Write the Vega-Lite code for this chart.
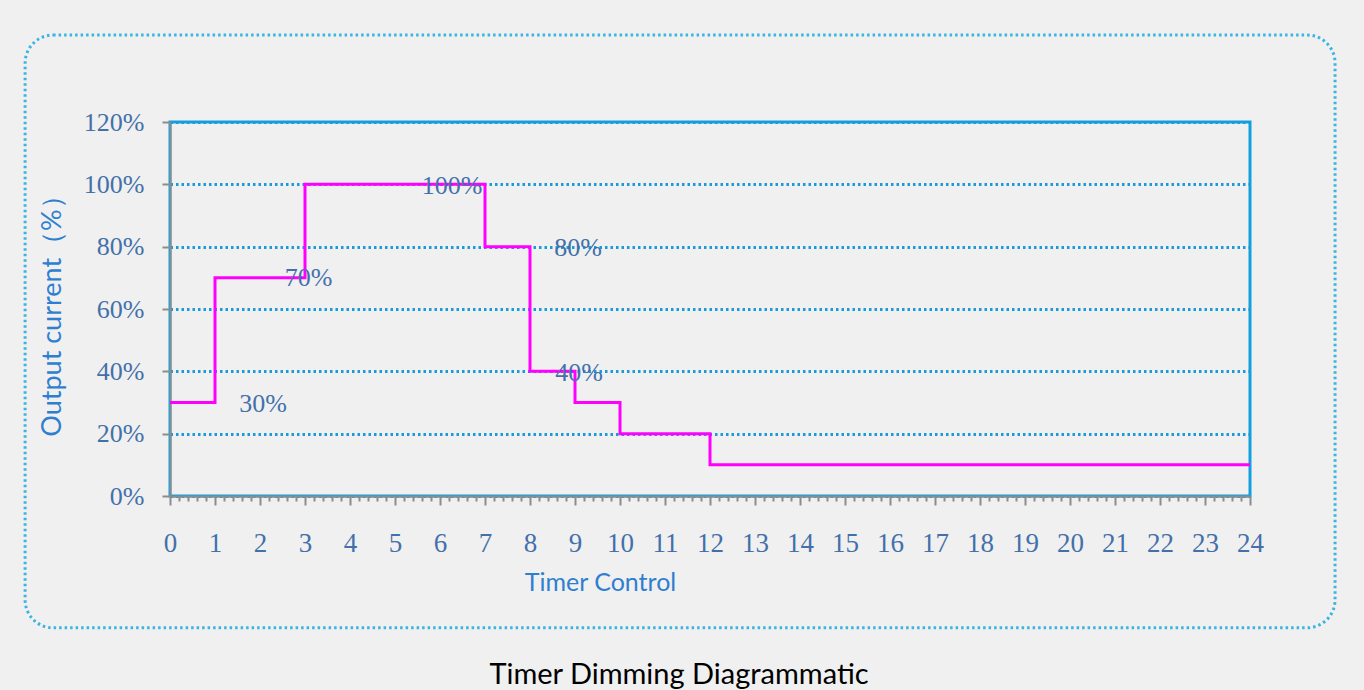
{
  "$schema": "https://vega.github.io/schema/vega-lite/v6.json",
  "width": 1080,
  "height": 374,
  "autosize": {"type": "none"},
  "padding": {"left": 170, "top": 122, "right": 114, "bottom": 194},
  "background": "#f0f0f0",
  "title": {
    "text": "Timer Dimming Diagrammatic",
    "orient": "bottom",
    "anchor": "middle",
    "font": "Lato",
    "fontSize": 29,
    "fontWeight": "normal",
    "color": "#000000",
    "offset": 32,
    "dx": -31
  },
  "config": {"view": {"stroke": "#10a0e0", "strokeWidth": 3}},
  "layer": [
    {
      "data": {"values": [{"frame": "box"}]},
      "mark": {"type": "rect", "clip": false, "fill": null, "filled": false, "stroke": "#3ab4e4", "strokeWidth": 3, "strokeDash": [2.5, 3], "cornerRadius": 28},
      "encoding": {
        "x": {"datum": -3.22, "type": "quantitative"},
        "x2": {"datum": 25.89},
        "y": {"datum": -42.3, "type": "quantitative"},
        "y2": {"datum": 147.9}
      }
    },
    {
      "data": {"values": [
        {"hour": 0, "output": 30},
        {"hour": 1, "output": 70},
        {"hour": 3, "output": 100},
        {"hour": 7, "output": 80},
        {"hour": 8, "output": 40},
        {"hour": 9, "output": 30},
        {"hour": 10, "output": 20},
        {"hour": 12, "output": 10},
        {"hour": 24, "output": 10}
      ]},
      "mark": {"type": "line", "interpolate": "step-after", "color": "#ff00ff", "strokeWidth": 3},
      "encoding": {
        "x": {
          "field": "hour", "type": "quantitative",
          "scale": {"domain": [0, 24], "nice": false, "zero": false},
          "axis": {
            "values": [0,0.2,0.4,0.6,0.8,1,1.2,1.4,1.6,1.8,2,2.2,2.4,2.6,2.8,3,3.2,3.4,3.6,3.8,4,4.2,4.4,4.6,4.8,5,5.2,5.4,5.6,5.8,6,6.2,6.4,6.6,6.8,7,7.2,7.4,7.6,7.8,8,8.2,8.4,8.6,8.8,9,9.2,9.4,9.6,9.8,10,10.2,10.4,10.6,10.8,11,11.2,11.4,11.6,11.8,12,12.2,12.4,12.6,12.8,13,13.2,13.4,13.6,13.8,14,14.2,14.4,14.6,14.8,15,15.2,15.4,15.6,15.8,16,16.2,16.4,16.6,16.8,17,17.2,17.4,17.6,17.8,18,18.2,18.4,18.6,18.8,19,19.2,19.4,19.6,19.8,20,20.2,20.4,20.6,20.8,21,21.2,21.4,21.6,21.8,22,22.2,22.4,22.6,22.8,23,23.2,23.4,23.6,23.8,24],
            "tickCount": 500,
            "labelExpr": "abs(datum.value - round(datum.value)) < 0.001 ? format(datum.value, 'd') : ''",
            "tickSize": {"condition": {"test": "abs(datum.value - round(datum.value)) < 0.001", "value": 9}, "value": 5},
            "tickColor": "#8c8c8c",
            "tickWidth": 2,
            "domainColor": "#8c8c8c",
            "domainWidth": 2,
            "grid": false,
            "labelFont": "Liberation Serif",
            "labelFontSize": 27,
            "labelColor": "#4470aa",
            "labelPadding": 25,
            "labelOverlap": false,
            "labelFlush": false,
            "title": "Timer Control",
            "titleFont": "Lato",
            "titleFontSize": 25,
            "titleFontWeight": "normal",
            "titleColor": "#2e7fd0",
            "titleX": 430,
            "titlePadding": 14
          }
        },
        "y": {
          "field": "output", "type": "quantitative",
          "scale": {"domain": [0, 120], "nice": false, "zero": true},
          "axis": {
            "values": [0, 20, 40, 60, 80, 100, 120],
            "tickCount": 50,
            "labelExpr": "datum.value + '%'",
            "grid": true,
            "gridColor": "#1a9ad8",
            "gridDash": [2.5, 3],
            "gridWidth": 3,
            "tickSize": 8,
            "tickColor": "#8c8c8c",
            "tickWidth": 2,
            "domainColor": "#8c8c8c",
            "domainWidth": 2,
            "labelFont": "Liberation Serif",
            "labelFontSize": 26,
            "labelColor": "#4470aa",
            "labelPadding": 18,
            "title": "Output current（%）",
            "titleFont": "Lato",
            "titleFontSize": 27,
            "titleFontWeight": "normal",
            "titleColor": "#2e7fd0",
            "titlePadding": 17
          }
        }
      }
    },
    {
      "data": {"values": [
        {"hour": 2.07, "output": 29.5, "label": "30%"},
        {"hour": 3.08, "output": 70, "label": "70%"},
        {"hour": 6.27, "output": 99.5, "label": "100%"},
        {"hour": 9.07, "output": 79.5, "label": "80%"},
        {"hour": 9.09, "output": 39.5, "label": "40%"}
      ]},
      "mark": {"type": "text", "font": "Liberation Serif", "fontSize": 26, "color": "#4470aa", "align": "center", "baseline": "middle"},
      "encoding": {
        "x": {"field": "hour", "type": "quantitative"},
        "y": {"field": "output", "type": "quantitative"},
        "text": {"field": "label"}
      }
    }
  ]
}
